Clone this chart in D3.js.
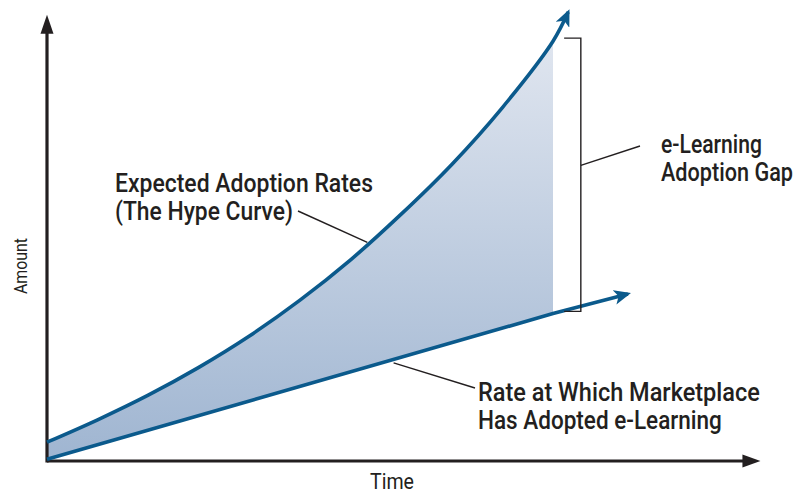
<!DOCTYPE html>
<html>
<head>
<meta charset="utf-8">
<script src="https://cdn.jsdelivr.net/npm/d3@7"></script>
<style>
  html, body { margin: 0; padding: 0; background: #ffffff; }
  svg { display: block; }
  .label { font-family: Roboto, "Liberation Sans", sans-serif; fill: #231f20; }
</style>
</head>
<body>
<svg id="chart" width="800" height="493"></svg>
<script>
// Time steps along the horizontal axis (arbitrary units)
const timeSteps = [0, 1, 2, 3, 4, 5, 6, 7, 8, 9, 10];
// Expected adoption rates (the hype curve)
const expectedRates = [4.2, 9.2, 14.7, 20.9, 27.9, 35.9, 44.9, 55.1, 66.2, 78.9, 93.7];
// Rate at which the marketplace has actually adopted e-learning
const adoptedRates = [0.4, 3.7, 6.9, 10.2, 13.4, 16.7, 19.9, 23.2, 26.4, 29.7, 32.9];
// Where each trend continues past the shaded period, ending in an arrow
const expectedTip = { t: 10.30, v: 100.2 };
const adoptedTip = { t: 11.48, v: 37.3 };
// Axis titles and annotation texts
const axisTitles = { x: "Time", y: "Amount" };
const hypeLabel = ["Expected Adoption Rates", "(The Hype Curve)"];
const gapLabel = ["e-Learning", "Adoption Gap"];
const marketLabel = ["Rate at Which Marketplace", "Has Adopted e-Learning"];

const svg = d3.select("#chart");
const ink = "#231f20";
const blue = "#0b5a8c";

const x = d3.scaleLinear().domain([0, 10]).range([47, 553]);
const y = d3.scaleLinear().domain([0, 100]).range([461, 13]);

const defs = svg.append("defs");
const grad = defs.append("linearGradient")
  .attr("id", "gapFill").attr("gradientUnits", "userSpaceOnUse")
  .attr("x1", 0).attr("x2", 0).attr("y1", y(93)).attr("y2", y(0));
grad.append("stop").attr("offset", 0).attr("stop-color", "#dfe5ef");
grad.append("stop").attr("offset", 1).attr("stop-color", "#9fb5d1");

// swept arrowhead for the trend lines
defs.append("marker")
  .attr("id", "trendHead").attr("viewBox", "0 0 16 14")
  .attr("markerUnits", "userSpaceOnUse")
  .attr("markerWidth", 17).attr("markerHeight", 15)
  .attr("refX", 13).attr("refY", 7).attr("orient", "auto")
  .append("path").attr("d", "M0,0 L16,7 L0,14 L4,7 Z").attr("fill", blue);

const rows = timeSteps.map((t, i) => ({ t, hype: expectedRates[i], real: adoptedRates[i] }));

// shaded gap between expectation and reality
svg.append("path")
  .datum(rows)
  .attr("fill", "url(#gapFill)")
  .attr("d", d3.area()
    .x(d => x(d.t))
    .y0(d => y(d.real))
    .y1(d => y(d.hype))
    .curve(d3.curveCatmullRom));

// axes with arrowheads
const axisG = svg.append("g");
const xEnd = x(14.1);
const yTop = y(99.6);
axisG.append("line").attr("x1", x(0)).attr("x2", xEnd - 14).attr("y1", y(0)).attr("y2", y(0))
  .attr("stroke", ink).attr("stroke-width", 3.2);
axisG.append("line").attr("x1", x(0)).attr("x2", x(0)).attr("y1", y(0) + 1.6).attr("y2", yTop + 14)
  .attr("stroke", ink).attr("stroke-width", 3.2);
axisG.append("path")
  .attr("d", `M${xEnd},${y(0)} L${xEnd - 18},${y(0) - 6.5} L${xEnd - 18},${y(0) + 6.5} Z`)
  .attr("fill", ink);
axisG.append("path")
  .attr("d", `M${x(0)},${yTop} L${x(0) - 6.5},${yTop + 19} L${x(0) + 6.5},${yTop + 19} Z`)
  .attr("fill", ink);

// trend lines
const line = d3.line().x(d => x(d.t)).y(d => y(d.v)).curve(d3.curveCatmullRom);
const hypePts = rows.map(d => ({ t: d.t, v: d.hype })).concat([expectedTip]);
const realPts = [rows[0], rows[rows.length - 1]].map(d => ({ t: d.t, v: d.real })).concat([adoptedTip]);

svg.append("path").datum(realPts)
  .attr("fill", "none").attr("stroke", blue).attr("stroke-width", 3.6)
  .attr("marker-end", "url(#trendHead)")
  .attr("d", d3.line().x(d => x(d.t)).y(d => y(d.v)));
svg.append("path").datum(hypePts)
  .attr("fill", "none").attr("stroke", blue).attr("stroke-width", 3.6)
  .attr("marker-end", "url(#trendHead)")
  .attr("d", line);

// bracket marking the adoption gap
const bx0 = x(10.22), bx1 = x(10.55);
const bTop = y(94.4), bBot = y(33.4);
svg.append("path")
  .attr("d", `M${bx0},${bTop} H${bx1} V${bBot} H${bx0}`)
  .attr("fill", "none").attr("stroke", ink).attr("stroke-width", 1.4);

// leader lines
const leaders = [
  [[bx1, y(66)], [640, 146]],
  [[298, 211], [x(6.33), y(48.8)]],
  [[x(6.85), y(21.9)], [475, 388]]
];
svg.append("g").selectAll("line").data(leaders).join("line")
  .attr("x1", d => d[0][0]).attr("y1", d => d[0][1])
  .attr("x2", d => d[1][0]).attr("y2", d => d[1][1])
  .attr("stroke", ink).attr("stroke-width", 1.4);

// condensed text: set in Roboto, then squeezed horizontally to the wanted width
function condensed(parent, s, size, weight, width, anchor) {
  const g = parent.append("g");
  const t = g.append("text").attr("class", "label")
    .attr("font-size", size).attr("font-weight", weight)
    .attr("text-anchor", anchor || "start")
    .text(s);
  const natural = t.node().getComputedTextLength();
  t.attr("transform", `scale(${width / natural},1)`);
  return g;
}

function block(lines, x0, y0, widths) {
  lines.forEach((s, i) => {
    condensed(svg, s, 25, 500, widths[i])
      .attr("transform", `translate(${x0},${y0 + i * 28})`);
  });
}
block(hypeLabel, 115, 192, [258, 178]);
block(gapLabel, 661, 153, [101, 132]);
block(marketLabel, 478, 401, [282, 244]);

// axis titles
condensed(svg, axisTitles.x, 22, 400, 44, "middle")
  .attr("transform", "translate(392,489)");
condensed(svg, axisTitles.y, 19, 400, 56, "middle")
  .attr("transform", "translate(27,266) rotate(-90)");
</script>
</body>
</html>
